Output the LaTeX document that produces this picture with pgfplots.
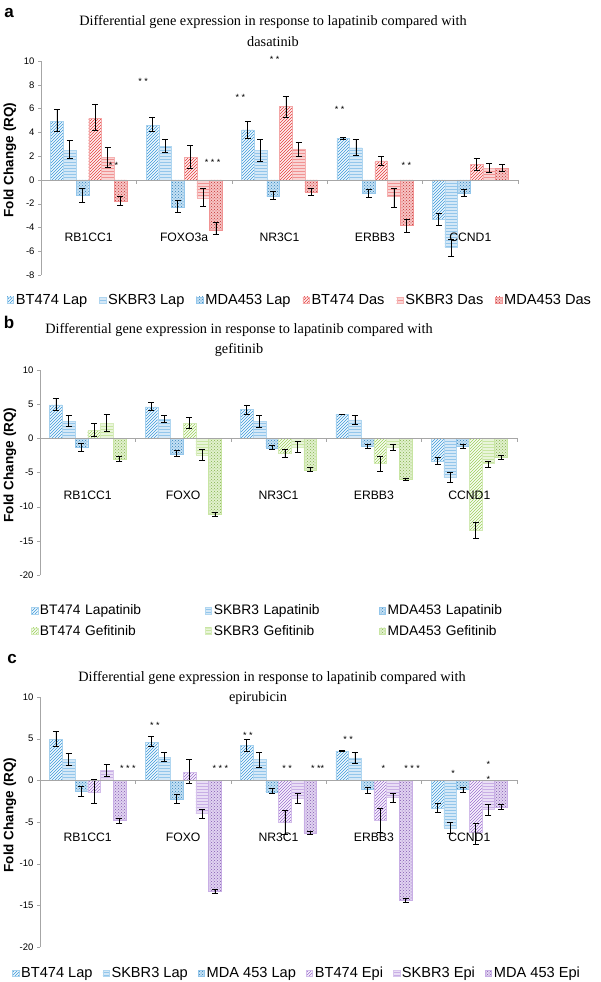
\documentclass[border=0pt]{standalone}
\usepackage{pgfplots}
\pgfplotsset{compat=1.18}
\usepackage{pgfplotstable}
\usetikzlibrary{patterns}
\usepackage{fontspec}
\setmainfont{Liberation Sans}
\newfontfamily\timesfont{Liberation Serif}
\definecolor{cblue}{HTML}{3A98DA}
\definecolor{cred}{HTML}{E53B3B}
\definecolor{cgreen}{HTML}{9BD058}
\definecolor{cpurple}{HTML}{9B6BD0}

% x y ep em
\pgfplotstableread{
x y ep em
0 4.9 1.0 0.8
1 4.6 0.7 0.5
2 4.2 0.7 0.7
3 3.5 0.05 0.05
4 -3.3 0.5 0.5
}\btlap
\pgfplotstableread{
x y ep em
0 2.5 0.8 0.7
1 2.8 0.6 0.5
2 2.5 0.9 0.9
3 2.7 0.7 0.6
4 -5.7 0.7 0.7
}\sklap
\pgfplotstableread{
x y ep em
0 -1.3 0.6 0.6
1 -2.3 0.6 0.4
2 -1.4 0.4 0.2
3 -1.1 0.3 0.4
4 -1.1 0.3 0.3
}\mdlap
\pgfplotstableread{
x y ep em
0 5.2 1.2 1.0
1 1.9 1.0 0.9
2 6.2 0.8 0.9
3 1.6 0.35 0.4
4 1.3 0.5 0.5
}\btdas
\pgfplotstableread{
x y ep em
0 1.9 0.8 0.8
1 -1.5 0.8 0.7
2 2.6 0.6 0.6
3 -1.4 0.7 0.9
4 1.0 0.4 0.4
}\skdas
\pgfplotstableread{
x y ep em
0 -1.8 0.4 0.3
1 -4.2 0.6 0.4
2 -1.0 0.3 0.3
3 -3.8 0.5 0.6
4 1.0 0.3 0.3
}\mddas
\pgfplotstableread{
x y ep em
0 1.2 1.0 0.9
1 2.2 0.9 0.7
2 -2.2 0.6 0.6
3 -3.7 1.1 1.1
4 -13.4 1.1 1.2
}\btgef
\pgfplotstableread{
x y ep em
0 2.2 1.3 1.2
1 -2.4 0.8 0.8
2 -1.3 0.8 0.8
3 -1.3 0.4 0.5
4 -3.7 0.4 0.5
}\skgef
\pgfplotstableread{
x y ep em
0 -3.0 0.3 0.3
1 -11.1 0.3 0.3
2 -4.6 0.3 0.2
3 -6.0 0.2 0.2
4 -2.8 0.3 0.3
}\mdgef
\pgfplotstableread{
x y ep em
0 -1.4 1.5 1.4
1 1.0 1.5 1.3
2 -5.0 1.4 1.5
3 -4.8 1.4 1.4
4 -6.2 1.0 1.5
}\btepi
\pgfplotstableread{
x y ep em
0 1.2 0.7 0.7
1 -4.0 0.5 0.5
2 -2.2 0.6 0.6
3 -2.0 0.5 0.6
4 -3.5 0.6 0.7
}\skepi
\pgfplotstableread{
x y ep em
0 -4.8 0.2 0.3
1 -13.3 0.2 0.3
2 -6.3 0.2 0.2
3 -14.4 0.3 0.2
4 -3.2 0.3 0.3
}\mdepi

\pgfplotsset{
  patA/.style={fill=#1!6, draw=#1!45, postaction={pattern=north east lines, pattern color=#1}},
  patB/.style={fill=#1!22, draw=#1!40, postaction={pattern=horizontal lines, pattern color=#1!55}},
  patC/.style={fill=#1!30, draw=#1!55, postaction={pattern=crosshatch dots, pattern color=#1!85!black}},
  myaxis/.style={
    scale only axis, width=477pt, xmin=-0.5, xmax=4.5,
    ybar=0pt, bar width=0.133,
    axis y line=left, axis x line=none,
    y axis line style={gray!70,-}, ytick style={gray!70},
    tick align=outside, major tick length=3pt,
    yticklabel style={font=\fontsize{9.5}{10}\selectfont, /pgf/number format/assume math mode=true},
    legend image code/.code={\draw[##1] (0pt,-3.2pt) rectangle (6.5pt,3.2pt);},
    legend style={draw=none, fill=none, font=\fontsize{14.6}{15}\selectfont, inner sep=0pt,
      /tikz/every even column/.append style={column sep=10pt}},
    legend cell align=left,
    clip=false,
  },
  eb/.style={error bars/.cd, y dir=both, y explicit,
    error bar style={black, line width=0.6pt},
    error mark options={rotate=90, mark size=3pt, black, line width=0.6pt}},
}
\newcommand{\xline}{%
  \draw[gray!70] (axis cs:-0.5,0) -- (axis cs:4.5,0);
  \pgfplotsinvokeforeach{-0.5,0.5,1.5,2.5,3.5,4.5}{\draw[gray!70] (axis cs:##1,0) -- ([yshift=-4pt]axis cs:##1,0);}
}
\newcommand{\catlabels}[6]{%
  \node[font=\fontsize{12.2}{13}\selectfont] at (axis cs:0,#1) {#2};
  \node[font=\fontsize{12.2}{13}\selectfont] at (axis cs:1,#1) {#3};
  \node[font=\fontsize{12.2}{13}\selectfont] at (axis cs:2,#1) {#4};
  \node[font=\fontsize{12.2}{13}\selectfont] at (axis cs:3,#1) {#5};
  \node[font=\fontsize{12.2}{13}\selectfont] at (axis cs:4,#1) {#6};
}
\tikzset{star/.style={font=\fontsize{9}{9}\selectfont, inner sep=0pt}}

\begin{document}
\begin{tikzpicture}
\path[use as bounding box] (0,0) rectangle (600pt,-982pt);

% ---------- panel a ----------
\node[font=\bfseries\fontsize{17}{17}\selectfont] at (9pt,-13pt) {a};
\node[font=\timesfont\fontsize{14.3}{16}\selectfont] at (273pt,-22pt) {Differential gene expression in response to lapatinib compared with};
\node[font=\timesfont\fontsize{14.3}{16}\selectfont] at (273pt,-42pt) {dasatinib};
\node[font=\bfseries\fontsize{13.5}{14}\selectfont, rotate=90] at (10pt,-160pt) {Fold Change (RQ)};
\begin{axis}[myaxis, at={(41pt,-275pt)}, anchor=south west, height=214pt,
  ymin=-8, ymax=10, ytick={-8,-6,...,10},
  legend columns=6,
  legend style={at={(0.543,-0.117)}, anchor=center}]
\addplot[patA=cblue, eb] table[x=x,y=y,y error plus=ep,y error minus=em]{\btlap};
\addplot[patB=cblue, eb] table[x=x,y=y,y error plus=ep,y error minus=em]{\sklap};
\addplot[patC=cblue, eb] table[x=x,y=y,y error plus=ep,y error minus=em]{\mdlap};
\addplot[patA=cred, eb] table[x=x,y=y,y error plus=ep,y error minus=em]{\btdas};
\addplot[patB=cred, eb] table[x=x,y=y,y error plus=ep,y error minus=em]{\skdas};
\addplot[patC=cred, eb] table[x=x,y=y,y error plus=ep,y error minus=em]{\mddas};
\legend{BT474 Lap,SKBR3 Lap,MDA453 Lap,BT474 Das,SKBR3 Das,MDA453 Das}
\xline
\catlabels{-4.8}{RB1CC1}{FOXO3a}{NR3C1}{ERBB3}{CCND1}
\node[star] at (axis cs:0.57,8.3) {* *};
\node[star] at (axis cs:1.59,6.9) {* *};
\node[star] at (axis cs:1.95,10.1) {* *};
\node[star] at (axis cs:2.63,5.9) {* *};
\node[star] at (axis cs:0.26,1.2) {* *};
\node[star] at (axis cs:1.30,1.5) {* * *};
\node[star] at (axis cs:3.33,1.2) {* *};
\end{axis}

% ---------- panel b ----------
\node[font=\bfseries\fontsize{17}{17}\selectfont] at (9pt,-322pt) {b};
\node[font=\timesfont\fontsize{14.3}{16}\selectfont] at (239pt,-330pt) {Differential gene expression in response to lapatinib compared with};
\node[font=\timesfont\fontsize{14.3}{16}\selectfont] at (239pt,-350pt) {gefitinib};
\node[font=\bfseries\fontsize{13.5}{14}\selectfont, rotate=90] at (10pt,-465pt) {Fold Change (RQ)};
\begin{axis}[myaxis, at={(40pt,-575pt)}, anchor=south west, height=205pt,
  ymin=-20, ymax=10, ytick={-20,-15,...,10},
  legend columns=3,
  legend style={at={(0.528,-0.224)}, anchor=center, font=\fontsize{13.8}{14}\selectfont,
    /tikz/every even column/.append style={text width=163pt, column sep=0pt},
    /tikz/every odd column/.append style={column sep=0pt},
    row sep=5pt}]
\addplot[patA=cblue, eb] table[x=x,y=y,y error plus=ep,y error minus=em]{\btlap};
\addplot[patB=cblue, eb] table[x=x,y=y,y error plus=ep,y error minus=em]{\sklap};
\addplot[patC=cblue, eb] table[x=x,y=y,y error plus=ep,y error minus=em]{\mdlap};
\addplot[patA=cgreen, eb] table[x=x,y=y,y error plus=ep,y error minus=em]{\btgef};
\addplot[patB=cgreen, eb] table[x=x,y=y,y error plus=ep,y error minus=em]{\skgef};
\addplot[patC=cgreen, eb] table[x=x,y=y,y error plus=ep,y error minus=em]{\mdgef};
\legend{BT474 Lapatinib,SKBR3 Lapatinib,MDA453 Lapatinib,BT474 Gefitinib,SKBR3 Gefitinib,MDA453 Gefitinib}
\xline
\catlabels{-8.4}{RB1CC1}{FOXO}{NR3C1}{ERBB3}{CCND1}
\end{axis}

% ---------- panel c ----------
\node[font=\bfseries\fontsize{17}{17}\selectfont] at (12pt,-659pt) {c};
\node[font=\timesfont\fontsize{14.3}{16}\selectfont] at (272pt,-678pt) {Differential gene expression in response to lapatinib compared with};
\node[font=\timesfont\fontsize{14.3}{16}\selectfont] at (258pt,-698pt) {epirubicin};
\node[font=\bfseries\fontsize{13.5}{14}\selectfont, rotate=90] at (10pt,-815pt) {Fold Change (RQ)};
\begin{axis}[myaxis, at={(40pt,-947pt)}, anchor=south west, height=250pt,
  ymin=-20, ymax=10, ytick={-20,-15,...,10},
  legend columns=6,
  legend style={at={(0.539,-0.105)}, anchor=center,
    /tikz/every even column/.append style={column sep=8pt}}]
\addplot[patA=cblue, eb] table[x=x,y=y,y error plus=ep,y error minus=em]{\btlap};
\addplot[patB=cblue, eb] table[x=x,y=y,y error plus=ep,y error minus=em]{\sklap};
\addplot[patC=cblue, eb] table[x=x,y=y,y error plus=ep,y error minus=em]{\mdlap};
\addplot[patA=cpurple, eb] table[x=x,y=y,y error plus=ep,y error minus=em]{\btepi};
\addplot[patB=cpurple, eb] table[x=x,y=y,y error plus=ep,y error minus=em]{\skepi};
\addplot[patC=cpurple, eb] table[x=x,y=y,y error plus=ep,y error minus=em]{\mdepi};
\legend{BT474 Lap,SKBR3 Lap,MDA 453 Lap,BT474 Epi,SKBR3 Epi,MDA 453 Epi}
\xline
\catlabels{-6.8}{RB1CC1}{FOXO}{NR3C1}{ERBB3}{CCND1}
\node[star] at (axis cs:0.705,6.6) {* *};
\node[star] at (axis cs:1.68,5.4) {* *};
\node[star] at (axis cs:2.73,4.9) {* *};
\node[star] at (axis cs:0.42,1.4) {* * *};
\node[star] at (axis cs:1.39,1.4) {* * *};
\node[star] at (axis cs:2.09,1.4) {* *};
\node[star] at (axis cs:2.41,1.4) {* **};
\node[star] at (axis cs:3.10,1.4) {*};
\node[star] at (axis cs:3.40,1.4) {* * *};
\node[star] at (axis cs:3.83,0.8) {*};
\node[star] at (axis cs:4.20,1.9) {*};
\node[star] at (axis cs:4.20,0.1) {*};
\end{axis}
\end{tikzpicture}
\end{document}
